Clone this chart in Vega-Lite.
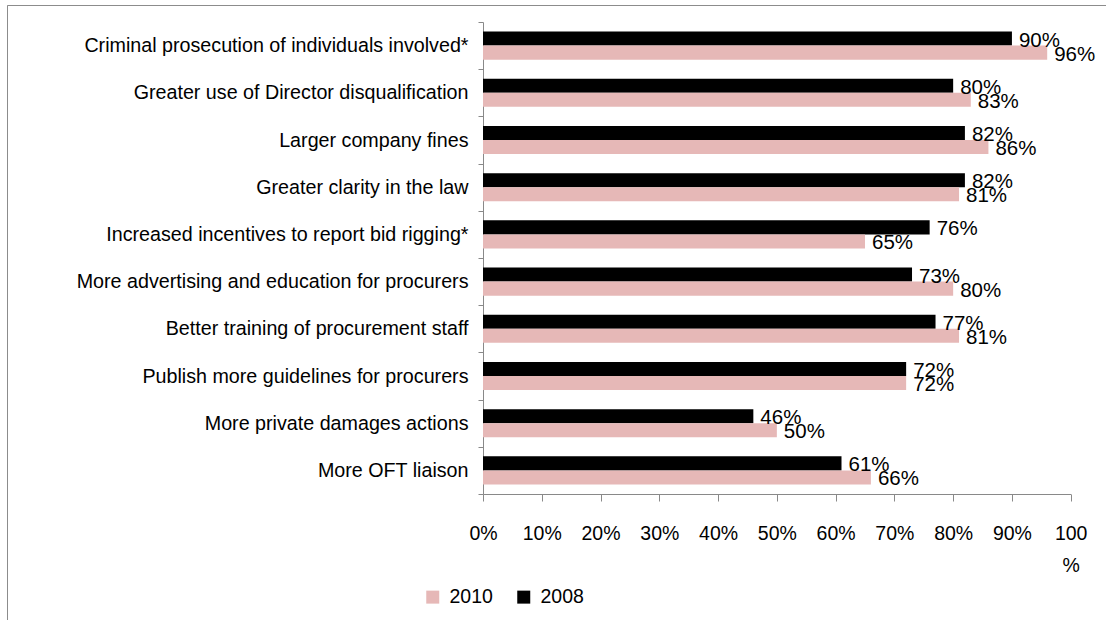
{
  "$schema": "https://vega.github.io/schema/vega-lite/v6.json",
  "width": 1099,
  "height": 615,
  "autosize": {"type": "none"},
  "padding": {"left": 7, "top": 5, "right": 0, "bottom": 0},
  "background": "white",
  "config": {
    "view": {"stroke": "#8c8c8c", "strokeWidth": 1, "strokeDash": [1099, 1714, 615, 10]},
    "font": "Liberation Sans"
  },
  "data": {
    "values": [
      {"measure": "Criminal prosecution of individuals involved*", "year": "2008", "value": 0.90},
      {"measure": "Criminal prosecution of individuals involved*", "year": "2010", "value": 0.96},
      {"measure": "Greater use of Director disqualification", "year": "2008", "value": 0.80},
      {"measure": "Greater use of Director disqualification", "year": "2010", "value": 0.83},
      {"measure": "Larger company fines", "year": "2008", "value": 0.82},
      {"measure": "Larger company fines", "year": "2010", "value": 0.86},
      {"measure": "Greater clarity in the law", "year": "2008", "value": 0.82},
      {"measure": "Greater clarity in the law", "year": "2010", "value": 0.81},
      {"measure": "Increased incentives to report bid rigging*", "year": "2008", "value": 0.76},
      {"measure": "Increased incentives to report bid rigging*", "year": "2010", "value": 0.65},
      {"measure": "More advertising and education for procurers", "year": "2008", "value": 0.73},
      {"measure": "More advertising and education for procurers", "year": "2010", "value": 0.80},
      {"measure": "Better training of procurement staff", "year": "2008", "value": 0.77},
      {"measure": "Better training of procurement staff", "year": "2010", "value": 0.81},
      {"measure": "Publish more guidelines for procurers", "year": "2008", "value": 0.72},
      {"measure": "Publish more guidelines for procurers", "year": "2010", "value": 0.72},
      {"measure": "More private damages actions", "year": "2008", "value": 0.46},
      {"measure": "More private damages actions", "year": "2010", "value": 0.50},
      {"measure": "More OFT liaison", "year": "2008", "value": 0.61},
      {"measure": "More OFT liaison", "year": "2010", "value": 0.66}
    ]
  },
  "encoding": {
    "y": {
      "field": "measure",
      "type": "nominal",
      "sort": null,
      "scale": {"range": [17, 489], "paddingInner": 0, "paddingOuter": 0},
      "axis": {
        "title": null,
        "orient": "left",
        "offset": -476,
        "tickBand": "extent",
        "tickSize": 5,
        "domainColor": "#898989",
        "tickColor": "#898989",
        "labelFont": "Liberation Sans",
        "labelFontSize": 19.7,
        "labelColor": "#000000",
        "labelPadding": 10,
        "labelLimit": 600
      }
    },
    "yOffset": {
      "field": "year",
      "type": "nominal",
      "scale": {"domain": ["2008", "2010"], "paddingInner": 0, "paddingOuter": 0.68}
    },
    "x": {
      "field": "value",
      "type": "quantitative",
      "scale": {"domain": [0, 1], "range": [476, 1063.7], "nice": false, "zero": true},
      "axis": {
        "title": null,
        "offset": -126,
        "grid": false,
        "values": [0, 0.1, 0.2, 0.3, 0.4, 0.5, 0.6, 0.7, 0.8, 0.9, 1],
        "labelExpr": "datum.value === 1 ? ['100', '%'] : format(datum.value, '.0%')",
        "tickSize": 7,
        "domainColor": "#898989",
        "tickColor": "#898989",
        "labelFont": "Liberation Sans",
        "labelFontSize": 19.5,
        "labelColor": "#000000",
        "labelPadding": 23,
        "labelLineHeight": 32,
        "labelFlush": false,
        "labelOverlap": false
      }
    }
  },
  "layer": [
    {
      "mark": {"type": "bar"},
      "encoding": {
        "color": {
          "field": "year",
          "type": "nominal",
          "scale": {"domain": ["2010", "2008"], "range": ["#e6b8b7", "#000000"]},
          "legend": {
            "title": null,
            "orient": "none",
            "legendX": 416,
            "legendY": 582,
            "direction": "horizontal",
            "symbolType": "square",
            "symbolSize": 169,
            "symbolStrokeWidth": 0,
            "symbolOpacity": 1,
            "labelFont": "Liberation Sans",
            "labelFontSize": 19.5,
            "labelColor": "#000000",
            "labelOffset": 7,
            "columnPadding": 21,
            "padding": 0
          }
        }
      }
    },
    {
      "mark": {
        "type": "text",
        "align": "left",
        "baseline": "middle",
        "dx": 7,
        "dy": 2,
        "font": "Liberation Sans",
        "fontSize": 20.5,
        "color": "#000000"
      },
      "encoding": {
        "text": {"field": "value", "type": "quantitative", "format": ".0%"}
      }
    }
  ]
}
